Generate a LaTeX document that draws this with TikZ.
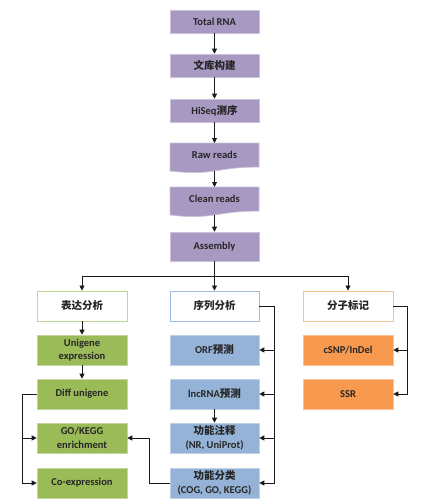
\documentclass[tikz,border=0pt]{standalone}
\usepackage{fontspec}
\setmainfont{Carlito}
\newfontfamily\cjk{Noto Sans CJK SC}
\usetikzlibrary{arrows.meta}
\definecolor{pur}{HTML}{A899C2}
\definecolor{grn}{HTML}{9BBB59}
\definecolor{blu}{HTML}{95B3D7}
\definecolor{org}{HTML}{F79A50}
\definecolor{grnl}{HTML}{BCD98F}
\definecolor{blul}{HTML}{9DBBE0}
\definecolor{orgl}{HTML}{FAC090}
\tikzset{
  box/.style={minimum width=89pt, minimum height=30pt, inner sep=0pt, align=center,
    font=\fontsize{10.5}{13.5}\selectfont\bfseries, text=black!85},
  purbox/.style={box, fill=pur, draw=pur!60!white, line width=0.6pt},
  grnbox/.style={box, minimum width=90pt, fill=grn, draw=grn!60!white, line width=0.6pt},
  blubox/.style={box, fill=blu, draw=blu!60!white, line width=0.6pt},
  orgbox/.style={box, minimum width=90pt, fill=org, draw=org!60!white, line width=0.6pt},
  headbox/.style={box, fill=white, line width=0.9pt},
  doctext/.style={inner sep=0pt, font=\fontsize{10.5}{13.5}\selectfont\bfseries, text=black!85},
  arr/.style={-{Triangle[width=5pt,length=5pt]}, line width=0.8pt, draw=black!90},
  ln/.style={line width=0.8pt, draw=black!90}
}
\begin{document}
\begin{tikzpicture}[x=1pt,y=-1pt]
\useasboundingbox (0,0) rectangle (422,503);
% top column
\node[purbox, minimum height=23pt] (total) at (214.5,21.5) {Total RNA};
\node[purbox, minimum height=23pt] (lib) at (214.5,65.5) {{\cjk 文库构建}};
\node[purbox, minimum height=23pt] (hiseq) at (214.5,110.5) {HiSeq{\cjk 测序}};
% document shapes
\path[fill=pur, draw=pur!60!white, line width=0.6pt] (170,143) -- (259,143) -- (259,167.06)
  .. controls (214.5,167.06) and (214.5,176.2) .. (170,171.0) -- cycle;
\path[fill=pur, draw=pur!60!white, line width=0.6pt] (170,187) -- (259,187) -- (259,211.06)
  .. controls (214.5,211.06) and (214.5,220.2) .. (170,215.0) -- cycle;
\node[doctext] (raw) at (214.5,154.5) {Raw reads};
\node[doctext] (clean) at (214.5,198.5) {Clean reads};
\coordinate (rawtop) at (214.5,143);
\coordinate (rawbot) at (214.5,171);
\coordinate (cleantop) at (214.5,187);
\coordinate (cleanbot) at (214.5,215);
\node[purbox, minimum height=29pt] (asm) at (214.5,246.5) {Assembly};

\draw[arr] (total.south) -- (lib.north);
\draw[arr] (lib.south) -- (hiseq.north);
\draw[arr] (hiseq.south) -- (rawtop);
\draw[arr] (rawbot) -- (cleantop);
\draw[arr] (cleanbot) -- (asm.north);

% headings
\node[headbox, minimum width=90pt, draw=grnl] (expr) at (82,306) {{\cjk 表达分析}};
\node[headbox, draw=blul] (seq) at (214.5,306) {{\cjk 序列分析}};
\node[headbox, minimum width=90pt, draw=orgl] (mark) at (348,306) {{\cjk 分子标记}};

\coordinate (junc) at (214.5,276);
\draw[ln] (asm.south) -- (junc);
\draw[arr] (junc) -| (expr.north);
\draw[arr] (junc) -- (seq.north);
\draw[arr] (junc) -| (mark.north);

% left column
\node[grnbox] (uni) at (82,350) {Unigene\\expression};
\node[grnbox] (diff) at (82,394) {Diff unigene};
\node[grnbox] (go) at (82,438) {GO/KEGG\\enrichment};
\node[grnbox] (co) at (82,483) {Co-expression};

% middle column
\node[blubox] (orf) at (214.5,350) {ORF{\cjk 预测}};
\node[blubox] (lnc) at (214.5,394) {lncRNA{\cjk 预测}};
\node[blubox] (ann) at (214.5,438) {{\cjk 功能注释}\\(NR, UniProt)};
\node[blubox] (cls) at (214.5,483) {{\cjk 功能分类}\\(COG, GO, KEGG)};

% right column
\node[orgbox] (snp) at (348,350) {cSNP/InDel};
\node[orgbox] (ssr) at (348,394) {SSR};

% connectors
\draw[arr] (expr.south) -- (uni.north);
\draw[arr] (uni.south) -- (diff.north);
\coordinate (lb) at (22,394);
\draw[ln] (diff.west) -- (lb);
\draw[arr] (lb) |- (co.west);
\draw[arr] (lb |- go.west) -- (go.west);
\coordinate (cb) at (149,483);
\draw[ln] (cls.west) -- (cb);
\draw[arr] (cb) |- (go.east);
\draw[arr] (lnc.south) -- (ann.north);

\coordinate (mb) at (274,306);
\draw[ln] (seq.east) -- (mb);
\draw[arr] (mb) |- (cls.east);
\draw[arr] (mb |- orf.east) -- (orf.east);
\draw[arr] (mb |- lnc.east) -- (lnc.east);
\draw[arr] (mb |- ann.east) -- (ann.east);

\coordinate (rb) at (407,306);
\draw[ln] (mark.east) -- (rb);
\draw[arr] (rb) |- (ssr.east);
\draw[arr] (rb |- snp.east) -- (snp.east);
\end{tikzpicture}
\end{document}
